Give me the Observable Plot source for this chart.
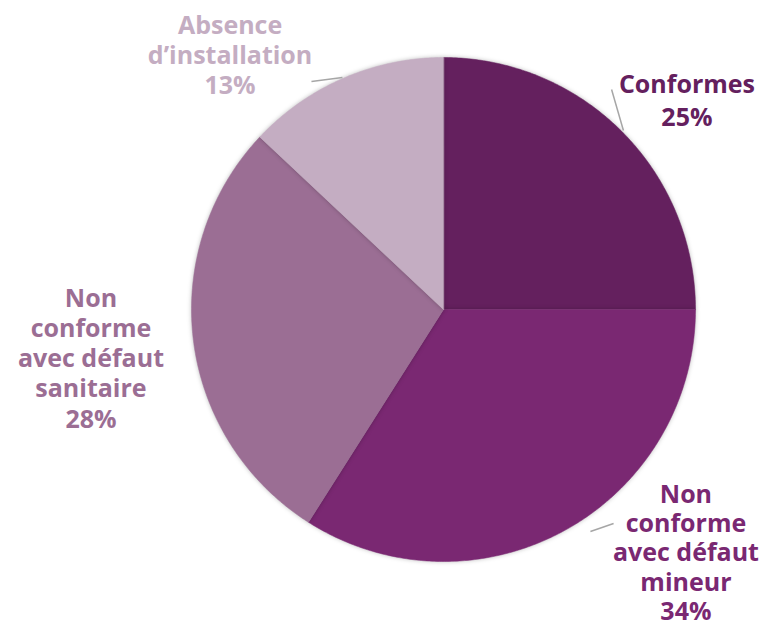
<!DOCTYPE html>
<html>
<head>
<meta charset="utf-8">
<script src="https://cdn.jsdelivr.net/npm/d3@7"></script>
<script src="https://cdn.jsdelivr.net/npm/@observablehq/plot@0.6"></script>
<style>
  html, body { margin: 0; padding: 0; background: #fff; }
  #chart svg { display: block; }
  .slices path { filter: drop-shadow(0px 0px 2px rgba(0,0,0,0.25)); }
</style>
</head>
<body>
<div id="chart"></div>
<script>
// ---- data ----
const categories = ["Conformes", "Non conforme avec défaut mineur", "Non conforme avec défaut sanitaire", "Absence d’installation"];
const values = [25, 34, 28, 13];
const colors = ["#64205e", "#7a2872", "#9b6e94", "#c4adc2"];
const labelTexts = ["Conformes\n25%", "Non\nconforme\navec défaut\nmineur\n34%", "Non\nconforme\navec défaut\nsanitaire\n28%", "Absence\nd’installation\n13%"];
// label anchors in chart units (pie radius = 1)
const labelX = [0.966, 0.962, -1.399, -0.847];
const labelY = [0.835, -0.962, -0.190, 1.012];
const labelLineHeight = [1.32, 1.17, 1.21, 1.2];
// leader lines (start/end in chart units)
const leaderCat = ["Conformes", "Non conforme avec défaut mineur", "Absence d’installation"];
const leaderX1 = [0.667, 0.583, -0.524];
const leaderY1 = [0.873, -0.881, 0.905];
const leaderX2 = [0.714, 0.675, -0.401];
const leaderY2 = [0.710, -0.849, 0.921];

// ---- build geometry ----
const arcs = d3.pie().sort(null).value(d => d)(values);
const slicePts = [];
arcs.forEach((a, i) => {
  slicePts.push({cat: categories[i], x: 0, y: 0});
  const n = Math.max(2, Math.ceil((a.endAngle - a.startAngle) / 0.01));
  for (let k = 0; k <= n; k++) {
    const t = a.startAngle + (a.endAngle - a.startAngle) * k / n;
    slicePts.push({cat: categories[i], x: Math.sin(t), y: Math.cos(t)});
  }
});
const labels = categories.map((c, i) => ({cat: c, text: labelTexts[i], x: labelX[i], y: labelY[i]}));
const leaders = leaderCat.map((c, i) => ({x1: leaderX1[i], y1: leaderY1[i], x2: leaderX2[i], y2: leaderY2[i]}));

const W = 769, H = 625, R = 252, CX = 443, CY = 309;

const chart = Plot.plot({
  width: W,
  height: H,
  margin: 0,
  x: {domain: [-CX / R, (W - CX) / R], axis: null},
  y: {domain: [-(H - CY) / R, CY / R], axis: null},
  color: {domain: categories, range: colors},
  style: {fontFamily: "'Open Sans', sans-serif", background: "#fff"},
  marks: [
    Plot.line(slicePts, {x: "x", y: "y", z: "cat", fill: "cat", stroke: "cat", strokeWidth: 0.5, curve: "linear-closed", className: "slices"}),
    Plot.link(leaders, {x1: "x1", y1: "y1", x2: "x2", y2: "y2", stroke: "#a6a6a6", strokeWidth: 1.5}),
    ...labels.map((d, i) => Plot.text([d], {x: "x", y: "y", text: "text", fill: "cat", fontSize: 25, fontWeight: 700, lineHeight: labelLineHeight[i], textAnchor: "middle", style: "letter-spacing: 1.6px"}))
  ]
});
document.getElementById("chart").appendChild(chart);
</script>
</body>
</html>
